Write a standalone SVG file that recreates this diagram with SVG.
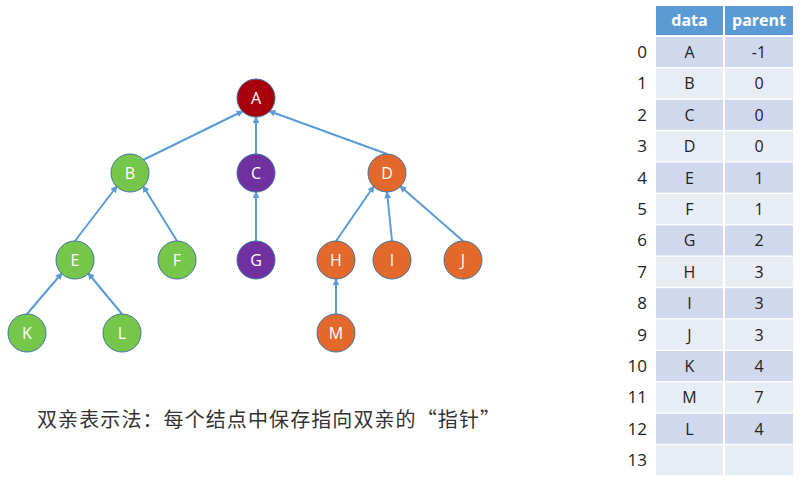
<svg xmlns="http://www.w3.org/2000/svg" width="803" height="486" viewBox="0 0 803 486">
<defs>
<marker id="ah" viewBox="0 0 10 10" refX="9" refY="5" markerWidth="7" markerHeight="7" markerUnits="userSpaceOnUse" orient="auto">
<path d="M0,0 L10,5 L0,10 z" fill="#5B9BD5"/>
</marker>
<style>
.e{stroke:#5B9BD5;stroke-width:2;fill:none;marker-end:url(#ah)}
.n{stroke:#41719C;stroke-width:1}
.red{fill:#A8000B}.grn{fill:#77C64C}.pur{fill:#7030A0}.org{fill:#E2692B}
.lb{font-family:"Open Sans","Liberation Sans",sans-serif;font-size:16px;fill:#fff;text-anchor:middle}
.th{font-family:"Open Sans","Liberation Sans",sans-serif;font-size:16px;fill:#fff;font-weight:bold;text-anchor:middle}
.td{font-family:"Open Sans","Liberation Sans",sans-serif;font-size:16px;fill:#222;text-anchor:middle}
.ix{font-family:"Open Sans","Liberation Sans",sans-serif;font-size:17px;fill:#222;text-anchor:end}
.dk{fill:#CFD8EC}.lt{fill:#E8ECF5}
</style>
</defs>
<rect width="803" height="486" fill="#fff"/>
<g id="connectors">
<line class="e" x1="143" y1="160" x2="243" y2="111"/>
<line class="e" x1="256" y1="154" x2="256" y2="117"/>
<line class="e" x1="387" y1="154" x2="269" y2="111"/>
<line class="e" x1="75" y1="241" x2="117" y2="186"/>
<line class="e" x1="177" y1="241" x2="143" y2="186"/>
<line class="e" x1="256" y1="241" x2="256" y2="192"/>
<line class="e" x1="336" y1="241" x2="374" y2="186"/>
<line class="e" x1="392" y1="241" x2="387" y2="192"/>
<line class="e" x1="463" y1="241" x2="400" y2="186"/>
<line class="e" x1="27" y1="314" x2="62" y2="273"/>
<line class="e" x1="122" y1="314" x2="88" y2="273"/>
<line class="e" x1="336" y1="314" x2="336" y2="279"/>
</g>
<g id="A"><circle class="n red" cx="256" cy="98" r="19"/><text class="lb" x="256" y="104">A</text></g>
<g id="B"><circle class="n grn" cx="130" cy="173" r="19"/><text class="lb" x="130" y="179">B</text></g>
<g id="C"><circle class="n pur" cx="256" cy="173" r="19"/><text class="lb" x="256" y="179">C</text></g>
<g id="D"><circle class="n org" cx="387" cy="173" r="19"/><text class="lb" x="387" y="179">D</text></g>
<g id="E"><circle class="n grn" cx="75" cy="260" r="19"/><text class="lb" x="75" y="266">E</text></g>
<g id="F"><circle class="n grn" cx="177" cy="260" r="19"/><text class="lb" x="177" y="266">F</text></g>
<g id="G"><circle class="n pur" cx="256" cy="260" r="19"/><text class="lb" x="256" y="266">G</text></g>
<g id="H"><circle class="n org" cx="336" cy="260" r="19"/><text class="lb" x="336" y="266">H</text></g>
<g id="I"><circle class="n org" cx="392" cy="260" r="19"/><text class="lb" x="392" y="266">I</text></g>
<g id="J"><circle class="n org" cx="463" cy="260" r="19"/><text class="lb" x="463" y="266">J</text></g>
<g id="K"><circle class="n grn" cx="27" cy="333" r="19"/><text class="lb" x="27" y="339">K</text></g>
<g id="L"><circle class="n grn" cx="122" cy="333" r="19"/><text class="lb" x="122" y="339">L</text></g>
<g id="M"><circle class="n org" cx="336" cy="333" r="19"/><text class="lb" x="336" y="339">M</text></g>
<text x="37" y="427" font-family="'Noto Sans CJK SC',sans-serif" font-size="20" fill="#333" textLength="463" lengthAdjust="spacing">双亲表示法：每个结点中保存指向双亲的“指针”</text>
<g id="table">
<rect x="656" y="6" width="67" height="29" fill="#5B9BD5"/>
<rect x="725" y="6" width="68" height="29" fill="#5B9BD5"/>
<text class="th" x="689.5" y="26">data</text>
<text class="th" x="759" y="26">parent</text>
<g id="rows">
<rect class="dk" x="656" y="37" width="67" height="30"/><rect class="dk" x="725" y="37" width="68" height="30"/>
<rect class="lt" x="656" y="68.4" width="67" height="30"/><rect class="lt" x="725" y="68.4" width="68" height="30"/>
<rect class="dk" x="656" y="99.8" width="67" height="30"/><rect class="dk" x="725" y="99.8" width="68" height="30"/>
<rect class="lt" x="656" y="131.2" width="67" height="30"/><rect class="lt" x="725" y="131.2" width="68" height="30"/>
<rect class="dk" x="656" y="162.6" width="67" height="30"/><rect class="dk" x="725" y="162.6" width="68" height="30"/>
<rect class="lt" x="656" y="194" width="67" height="30"/><rect class="lt" x="725" y="194" width="68" height="30"/>
<rect class="dk" x="656" y="225.4" width="67" height="30"/><rect class="dk" x="725" y="225.4" width="68" height="30"/>
<rect class="lt" x="656" y="256.8" width="67" height="30"/><rect class="lt" x="725" y="256.8" width="68" height="30"/>
<rect class="dk" x="656" y="288.2" width="67" height="30"/><rect class="dk" x="725" y="288.2" width="68" height="30"/>
<rect class="lt" x="656" y="319.6" width="67" height="30"/><rect class="lt" x="725" y="319.6" width="68" height="30"/>
<rect class="dk" x="656" y="351" width="67" height="30"/><rect class="dk" x="725" y="351" width="68" height="30"/>
<rect class="lt" x="656" y="382.4" width="67" height="30"/><rect class="lt" x="725" y="382.4" width="68" height="30"/>
<rect class="dk" x="656" y="413.8" width="67" height="30"/><rect class="dk" x="725" y="413.8" width="68" height="30"/>
<rect class="lt" x="656" y="445.2" width="67" height="30"/><rect class="lt" x="725" y="445.2" width="68" height="30"/>
</g>
<g id="cells">
<text class="td" x="689.5" y="58">A</text><text class="td" x="759" y="58">-1</text>
<text class="td" x="689.5" y="89.4">B</text><text class="td" x="759" y="89.4">0</text>
<text class="td" x="689.5" y="120.8">C</text><text class="td" x="759" y="120.8">0</text>
<text class="td" x="689.5" y="152.2">D</text><text class="td" x="759" y="152.2">0</text>
<text class="td" x="689.5" y="183.6">E</text><text class="td" x="759" y="183.6">1</text>
<text class="td" x="689.5" y="215">F</text><text class="td" x="759" y="215">1</text>
<text class="td" x="689.5" y="246.4">G</text><text class="td" x="759" y="246.4">2</text>
<text class="td" x="689.5" y="277.8">H</text><text class="td" x="759" y="277.8">3</text>
<text class="td" x="689.5" y="309.2">I</text><text class="td" x="759" y="309.2">3</text>
<text class="td" x="689.5" y="340.6">J</text><text class="td" x="759" y="340.6">3</text>
<text class="td" x="689.5" y="372">K</text><text class="td" x="759" y="372">4</text>
<text class="td" x="689.5" y="403.4">M</text><text class="td" x="759" y="403.4">7</text>
<text class="td" x="689.5" y="434.8">L</text><text class="td" x="759" y="434.8">4</text>
</g>
<g id="indexes">
<text class="ix" x="647" y="58">0</text>
<text class="ix" x="647" y="89.4">1</text>
<text class="ix" x="647" y="120.8">2</text>
<text class="ix" x="647" y="152.2">3</text>
<text class="ix" x="647" y="183.6">4</text>
<text class="ix" x="647" y="215">5</text>
<text class="ix" x="647" y="246.4">6</text>
<text class="ix" x="647" y="277.8">7</text>
<text class="ix" x="647" y="309.2">8</text>
<text class="ix" x="647" y="340.6">9</text>
<text class="ix" x="647" y="372">10</text>
<text class="ix" x="647" y="403.4">11</text>
<text class="ix" x="647" y="434.8">12</text>
<text class="ix" x="647" y="466.2">13</text>
</g>
</g>
</svg>
